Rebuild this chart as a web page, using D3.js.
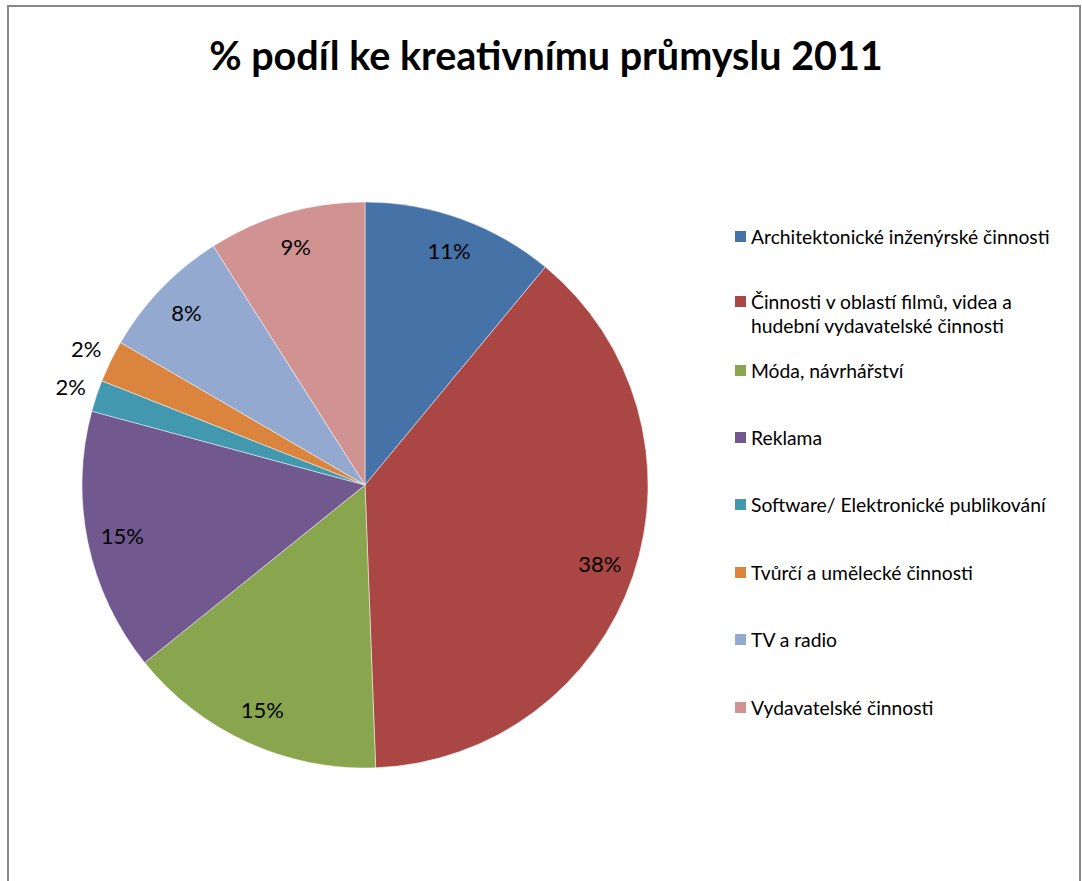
<!DOCTYPE html>
<html>
<head>
<meta charset="utf-8">
<script src="https://cdn.jsdelivr.net/npm/d3@7"></script>
<style>
  body { margin: 0; background: #fff; }
  svg { display: block; font-family: Lato, 'Open Sans', sans-serif; }
</style>
</head>
<body>
<svg id="chart"></svg>
<script>
const categories = [
  'Architektonické inženýrské činnosti',
  'Činnosti v oblastí filmů, videa a hudební vydavatelské činnosti',
  'Móda, návrhářství',
  'Reklama',
  'Software/ Elektronické publikování',
  'Tvůrčí a umělecké činnosti',
  'TV a radio',
  'Vydavatelské činnosti'
];
const legendLines = [
  ['Architektonické inženýrské činnosti'],
  ['Činnosti v oblastí filmů, videa a', 'hudební vydavatelské činnosti'],
  ['Móda, návrhářství'],
  ['Reklama'],
  ['Software/ Elektronické publikování'],
  ['Tvůrčí a umělecké činnosti'],
  ['TV a radio'],
  ['Vydavatelské činnosti']
];
const values = [11.0, 38.4, 14.8, 15.0, 1.8, 2.4, 7.6, 9.0];
const colors = ['#4572A7', '#AA4643', '#89A54E', '#71588F', '#4198AF', '#DB843D', '#93A9CF', '#D19392'];
const title = '% podíl ke kreativnímu průmyslu 2011';

const totalWidth = 1082;
const totalHeight = 881;
const cx = 365;
const cy = 485;
const radius = 283;

const svg = d3.select('#chart')
  .attr('width', totalWidth)
  .attr('height', totalHeight);

/* chart border */
svg.append('rect')
  .attr('x', 8)
  .attr('y', 6)
  .attr('width', 1072)
  .attr('height', 900)
  .attr('fill', 'none')
  .attr('stroke', '#888')
  .attr('stroke-width', 2);

svg.append('text')
  .attr('x', 546)
  .attr('y', 70)
  .attr('text-anchor', 'middle')
  .attr('font-size', 39.5)
  .attr('font-weight', 'bold')
  .attr('fill', '#000')
  .text(title);

const pie = d3.pie().sort(null).value((d) => d);
const arcs = pie(values);
const arc = d3.arc().innerRadius(0).outerRadius(radius);

const pieG = svg.append('g').attr('transform', `translate(${cx}, ${cy})`);

pieG.selectAll('.slice')
  .data(arcs)
  .enter()
  .append('path')
  .attr('class', 'slice')
  .attr('d', arc)
  .attr('fill', (d, i) => colors[i])
  .attr('stroke', 'rgba(255,255,255,0.6)')
  .attr('stroke-width', 0.8);

// small slices get their label outside
const labelArc = d3.arc().innerRadius(248).outerRadius(248);
const outerArc = d3.arc().innerRadius(310).outerRadius(310);

pieG.selectAll('.label')
  .data(arcs)
  .enter()
  .append('text')
  .attr('class', 'label')
  .attr('transform', (d) => {
    const small = d.value < 3;
    const p = small ? outerArc.centroid(d) : labelArc.centroid(d);
    return `translate(${p[0]}, ${p[1]})`;
  })
  .attr('text-anchor', 'middle')
  .attr('dy', '0.35em')
  .attr('font-size', 22)
  .attr('fill', '#000')
  .text((d) => `${Math.round(d.value)}%`);

/* legend */
const legendY = [237, 302, 371, 438, 505, 573, 640, 708];
const legend = svg.append('g');
legendLines.forEach((lines, i) => {
  const g = legend.append('g').attr('transform', `translate(735, ${legendY[i]})`);
  g.append('rect')
    .attr('x', 0)
    .attr('y', -6)
    .attr('width', 11)
    .attr('height', 11)
    .attr('fill', colors[i]);
  const t = g.append('text')
    .attr('x', 16)
    .attr('y', 0)
    .attr('font-size', 19.3)
    .attr('fill', '#000');
  lines.forEach((line, j) => {
    t.append('tspan')
      .attr('x', 16)
      .attr('dy', j === 0 ? '0.35em' : 24)
      .text(line);
  });
});
</script>
</body>
</html>
